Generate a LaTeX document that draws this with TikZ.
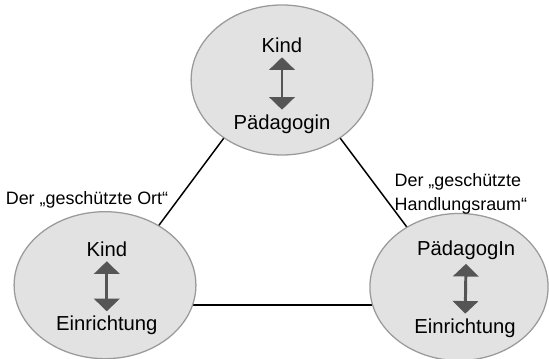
\documentclass[tikz,border=0pt]{standalone}
\usepackage{fontspec}
\setmainfont{Liberation Sans}
\usepackage{xcolor}
\usetikzlibrary{arrows.meta,shapes.geometric,backgrounds}
\definecolor{ellfill}{HTML}{E2E2E2}
\definecolor{elldraw}{HTML}{9A9A9A}
\definecolor{arrgray}{HTML}{555555}

\begin{document}
\begin{tikzpicture}[
  ell/.style={ellipse,draw=elldraw,fill=ellfill,line width=0.6pt,minimum width=3.03cm,minimum height=2.45cm},
  t/.style={font=\fontsize{9.6}{11}\selectfont,inner sep=2pt},
  lab/.style={font=\fontsize{8.5}{11.5}\selectfont,inner sep=0pt},
  dbl/.style={{Triangle[width=12pt,length=6pt]}-{Triangle[width=12pt,length=6pt]},draw=arrgray,fill=arrgray,line width=1.4pt},
  con/.style={draw=black,line width=0.7pt}]
  \useasboundingbox (0,0) rectangle (9.15,5.983);
  \node[ell,minimum height=2.5cm](kp) at (4.70,4.65){};
  \node[ell](ke) at (1.75,1.23){};
  \node[ell,minimum width=2.97cm](pe) at (7.65,1.20){};
  \draw[con](kp.225)--(ke.48);
  \draw[con](kp.315)--(pe.131);
  \begin{scope}[on background layer]
    \draw[con](ke.center |- 0,0.90)--(pe.center |- 0,0.90);
  \end{scope}
  \node[t](kp1) at (4.70,5.23){Kind};
  \node[t](kp2) at (4.70,3.92){Pädagogin};
  \draw[dbl](kp1)--(kp2);
  \node[t](ke1) at (1.78,1.83){Kind};
  \node[t](ke2) at (1.78,0.56){Einrichtung};
  \draw[dbl](ke1)--(ke2);
  \node[t](pe1) at (7.77,1.82){PädagogIn};
  \node[t](pe2) at (7.75,0.52){Einrichtung};
  \draw[dbl](pe1)--(pe2);
  \node[lab](ort) at (1.45,2.65){Der „geschützte Ort“};
  \node[lab,align=left,anchor=west](raum) at (6.57,2.75){Der „geschützte\\Handlungsraum“};
\end{tikzpicture}
\end{document}
